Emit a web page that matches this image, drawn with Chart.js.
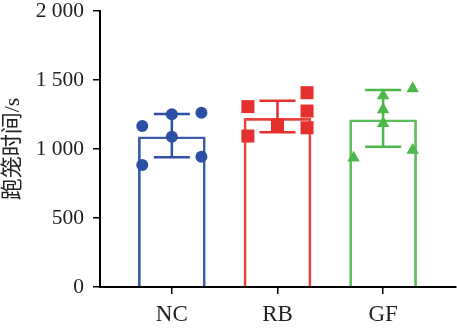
<!DOCTYPE html>
<html>
<head>
<meta charset="utf-8">
<script src="https://cdn.jsdelivr.net/npm/chart.js@4"></script>
<style>
  html, body { margin: 0; padding: 0; background: #fff; }
</style>
</head>
<body>
<canvas id="runChart" width="457" height="329"></canvas>
<script>
const groups = ['NC', 'RB', 'GF'];
const yTitle = '跑笼时间/s';
const yTicks = [0, 500, 1000, 1500, 2000];

// bar height (mean) and error bar ends per group
const means = [1089, 1222, 1212];
const errLow = [940, 1121, 1017];
const errHigh = [1254, 1350, 1428];

// individual animals; cols = which column of the dot cluster (-1 left, 0 middle, 1 right)
const ncValues = [1166, 884, 1251, 1089, 1263, 944];
const ncCols = [-1, -1, 0, 0, 1, 1];
const rbValues = [1307, 1094, 1174, 1408, 1275, 1154];
const rbCols = [-1, -1, 0, 1, 1, 1];
const gfValues = [936, 1386, 1286, 1185, 1438, 992];
const gfCols = [-1, 0, 0, 0, 1, 1];

const pointColors = ['#2d50a6', '#e5302d', '#4cb84a'];
const barColors = ['#3d5cab', '#e8433f', '#5cbd59'];

const serif = '"Liberation Serif", "Times New Roman", serif';
const cjk = '"Liberation Serif", "Noto Sans CJK SC", serif';

const toPoints = (vals, cols, i) => vals.map((v, k) => ({ x: i + 1 + cols[k] * 0.28, y: v }));

const fmt = v => v >= 1000 ? Math.floor(v / 1000) + ' ' + String(v % 1000).padStart(3, '0') : String(v);

const errorBars = {
    id: 'errorBars',
    afterDatasetDraw(chart, args) {
        if (args.index !== 0) return;
        const { ctx, scales: { x, y } } = chart;
        ctx.save();
        ctx.lineWidth = 2.5;
        groups.forEach((g, i) => {
            const cx = x.getPixelForValue(i + 1);
            const top = y.getPixelForValue(errHigh[i]);
            const bot = y.getPixelForValue(errLow[i]);
            ctx.strokeStyle = pointColors[i];
            ctx.beginPath();
            ctx.moveTo(cx, top); ctx.lineTo(cx, bot);
            ctx.moveTo(cx - 18, top); ctx.lineTo(cx + 18, top);
            ctx.moveTo(cx - 18, bot); ctx.lineTo(cx + 18, bot);
            ctx.stroke();
        });
        ctx.restore();
    }
};

const axisGrid = { drawOnChartArea: false, drawTicks: true, tickLength: 7, color: '#000', lineWidth: 1.5, offset: false };
const axisBorder = { color: '#000', width: 2 };

new Chart(document.getElementById('runChart'), {
    type: 'bar',
    data: {
        datasets: [
            {
                data: means.map((m, i) => ({ x: i + 1, y: m })),
                backgroundColor: 'rgba(255,255,255,0)',
                borderColor: barColors,
                borderWidth: 2,
                barThickness: 67,
                order: 3
            },
            {
                type: 'scatter',
                data: toPoints(ncValues, ncCols, 0),
                pointStyle: 'circle',
                pointRadius: 6,
                backgroundColor: pointColors[0],
                borderWidth: 0,
                order: 0
            },
            {
                type: 'scatter',
                data: toPoints(rbValues, rbCols, 1),
                pointStyle: 'rect',
                pointRadius: 9.2,
                backgroundColor: pointColors[1],
                borderWidth: 0,
                order: 0
            },
            {
                type: 'scatter',
                data: toPoints(gfValues, gfCols, 2),
                pointStyle: 'triangle',
                pointRadius: 7.2,
                backgroundColor: pointColors[2],
                borderWidth: 0,
                order: 0
            }
        ]
    },
    options: {
        responsive: false,
        animation: false,
        layout: { autoPadding: false, padding: { top: 0, right: 1, left: 0, bottom: 0 } },
        plugins: { legend: { display: false }, tooltip: { enabled: false } },
        scales: {
            x: {
                type: 'linear',
                offset: false,
                min: 0.32,
                max: 3.69,
                afterBuildTicks: s => { s.ticks = groups.map((g, i) => ({ value: i + 1 })); },
                afterFit: s => { s.height = 42; s.paddingLeft = 0; s.paddingRight = 0; },
                ticks: {
                    callback: v => groups[v - 1],
                    font: { family: serif, size: 23 },
                    color: '#222',
                    padding: 7,
                    maxRotation: 0,
                    autoSkip: false
                },
                grid: axisGrid,
                border: axisBorder
            },
            y: {
                min: 0,
                max: 2000,
                afterBuildTicks: s => { s.ticks = yTicks.map(v => ({ value: v })); },
                afterFit: s => { s.width = 100; s.paddingTop = 11; s.paddingBottom = 0; },
                ticks: {
                    callback: fmt,
                    font: { family: serif, size: 21.5, lineHeight: 1.1 },
                    color: '#222',
                    padding: 9
                },
                grid: axisGrid,
                border: axisBorder,
                title: {
                    display: true,
                    text: yTitle,
                    font: { family: cjk, size: 22 },
                    color: '#222',
                    padding: { top: 0, bottom: 0 }
                }
            }
        }
    },
    plugins: [errorBars]
});
</script>
</body>
</html>
